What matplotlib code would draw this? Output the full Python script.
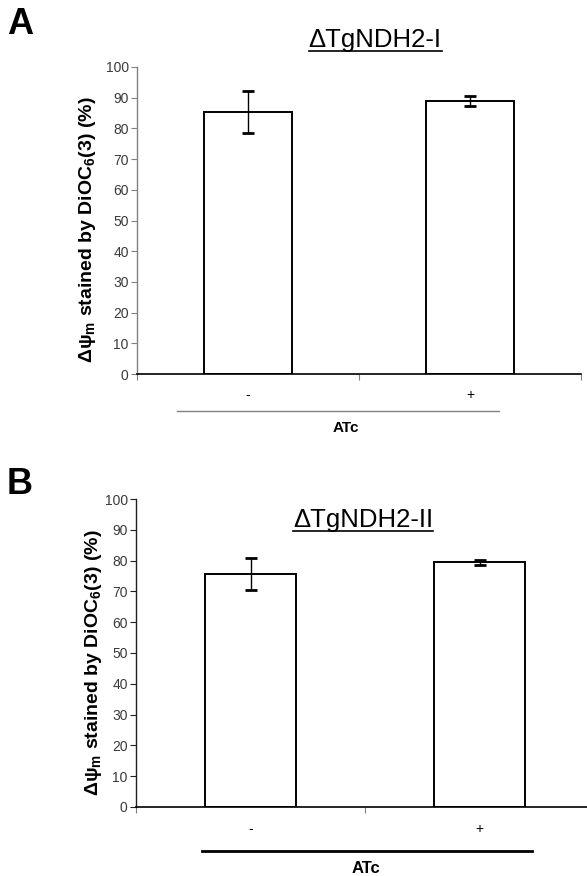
import matplotlib

matplotlib.use("Agg")
import matplotlib.pyplot as plt
from matplotlib.lines import Line2D

plt.rcParams["font.family"] = ["Liberation Sans", "DejaVu Sans"]

# panel A
categories = ["-", "+"]
values_a = [85.3, 89.0]
errors_a = [6.9, 1.6]
title_a = "\u0394TgNDH2-I"

# panel B
values_b = [75.5, 79.4]
errors_b = [5.2, 0.7]
title_b = "\u0394TgNDH2-II"

yticks = list(range(0, 101, 10))
ylabel = "\u0394\u03c8$_\\mathregular{m}$ stained by DiOC$_\\mathregular{6}$(3) (%)"
group_label = "ATc"

W, H = 587, 876
fig = plt.figure(figsize=(W / 100, H / 100), dpi=100)


def px_axes(left, top, right, bottom):
    return fig.add_axes([left / W, 1 - bottom / H, (right - left) / W, (bottom - top) / H])


def draw_panel(ax, values, errors, spine_color, line_x, line_y, line_color, line_lw,
               label_xy, label_size, ylab_xy, tick_pad):
    x = list(range(len(categories)))
    ax.bar(x, values, width=0.40, color="white", edgecolor="black", linewidth=1.4, zorder=2)
    ax.errorbar(x, values, yerr=errors, fmt="none", ecolor="black", elinewidth=1.0,
                capsize=4, capthick=2, zorder=3)
    ax.set_xlim(-0.5, len(categories) - 0.5)
    ax.set_ylim(0, 100)
    ax.set_yticks(yticks)
    ax.set_yticklabels([str(t) for t in yticks], fontsize=10, color="#3a3a3a")
    ax.tick_params(axis="y", direction="out", length=4, width=0.8, color=spine_color, pad=2)

    ax.set_xticks([i - 0.5 for i in range(len(categories) + 1)])
    ax.set_xticklabels([])
    ax.tick_params(axis="x", which="major", direction="out", length=4, width=0.8, color="#808080")
    ax.set_xticks(x, minor=True)
    ax.set_xticklabels(categories, minor=True, fontsize=10)
    ax.tick_params(axis="x", which="minor", length=0, pad=tick_pad)

    for side in ("top", "right"):
        ax.spines[side].set_visible(False)
    ax.spines["left"].set_color(spine_color)
    ax.spines["left"].set_linewidth(1.0)
    ax.spines["bottom"].set_color("black")
    ax.spines["bottom"].set_linewidth(1.2)

    ax.add_line(Line2D(line_x, [line_y, line_y], transform=ax.transAxes, color=line_color,
                       linewidth=line_lw, clip_on=False))
    ax.text(label_xy[0], label_xy[1], group_label, transform=ax.transAxes, ha="center",
            va="center", fontsize=label_size, fontweight="bold")
    ax.set_ylabel(ylabel, fontsize=14, fontweight="bold")
    ax.yaxis.set_label_coords(*ylab_xy)


ax_a = px_axes(137, 67, 581, 374)
draw_panel(ax_a, values_a, errors_a, "#808080", [0.090, 0.815], -0.1205, "#808080", 1.0,
           (0.47, -0.176), 11, (-0.088, 0.47), 10)

ax_b = px_axes(136, 499, 594, 807)
draw_panel(ax_b, values_b, errors_b, "#202020", [0.144, 0.865], -0.143, "black", 2.0,
           (0.502, -0.201), 12, (-0.07, 0.47), 11)

fig.text(7 / W, 1 - 25 / H, "A", fontsize=26, fontweight="bold", va="center", ha="left")
fig.text(7 / W, 1 - 485 / H, "B", fontsize=26, fontweight="bold", va="center", ha="left")

titles = []
titles.append(fig.text(375 / W, 1 - 40 / H, title_a, fontsize=18.5, ha="center", va="center"))
titles.append(fig.text(363 / W, 1 - 520 / H, title_b, fontsize=18.5, ha="center", va="center"))

fig.canvas.draw()
renderer = fig.canvas.get_renderer()
for t in titles:
    bb = t.get_window_extent(renderer=renderer)
    yline = (bb.y0 + 1) / H
    fig.add_artist(Line2D([bb.x0 / W, bb.x1 / W], [yline, yline], transform=fig.transFigure,
                          color="black", linewidth=1.2))

fig.savefig("out.png", dpi=100)
